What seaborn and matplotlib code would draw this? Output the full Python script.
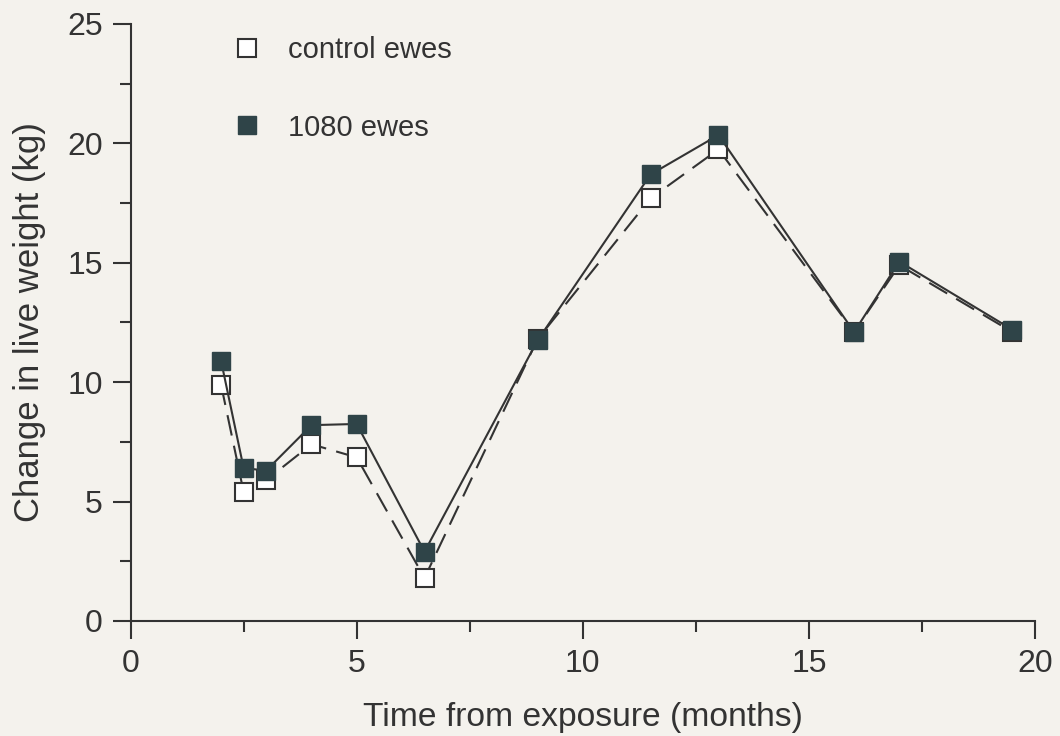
import matplotlib
matplotlib.use("Agg")
import matplotlib.pyplot as plt
import seaborn as sns
import pandas as pd
from matplotlib.lines import Line2D
from matplotlib.ticker import MultipleLocator

months = [2, 2.5, 3, 4, 5, 6.5, 9, 11.5, 13, 16, 17, 19.5]
control_ewes = [9.9, 5.4, 5.9, 7.4, 6.85, 1.8, 11.8, 17.7, 19.75, 12.1, 14.9, 12.1]
ewes_1080 = [10.9, 6.4, 6.3, 8.2, 8.25, 2.9, 11.75, 18.7, 20.35, 12.1, 15.05, 12.2]
series_labels = ["control ewes", "1080 ewes"]

sns.set_theme(style="ticks")
plt.rcParams['font.family'] = ['Liberation Sans', 'DejaVu Sans']

BG = "#f4f2ed"
INK = "#333333"
FILL = "#2f4448"

fig = plt.figure(figsize=(10.6, 7.36), dpi=100, facecolor=BG)
ax = fig.add_axes([0.1232, 0.1563, 0.8532, 0.8111])
ax.set_facecolor(BG)

df_c = pd.DataFrame({"x": months, "y": control_ewes})
df_t = pd.DataFrame({"x": months, "y": ewes_1080})

sns.lineplot(data=df_c, x="x", y="y", ax=ax, color=INK, lw=1.5,
             marker="s", markersize=13.2, markerfacecolor="white",
             markeredgecolor=INK, markeredgewidth=1.5, zorder=2)
ax.lines[-1].set_dashes([10, 5])
sns.lineplot(data=df_t, x="x", y="y", ax=ax, color=INK, lw=1.5,
             marker="s", markersize=13.2, markerfacecolor=FILL,
             markeredgecolor=FILL, markeredgewidth=1.0, zorder=3)

ax.set_xlim(0, 20)
ax.set_ylim(0, 25)
ax.xaxis.set_major_locator(MultipleLocator(5))
ax.xaxis.set_minor_locator(MultipleLocator(2.5))
ax.yaxis.set_major_locator(MultipleLocator(5))
ax.yaxis.set_minor_locator(MultipleLocator(2.5))
sns.despine(ax=ax)
for s in ("left", "bottom"):
    ax.spines[s].set_color(INK)
    ax.spines[s].set_linewidth(1.5)
ax.tick_params(which="major", length=13, width=1.5, color=INK,
               labelsize=23, labelcolor=INK, pad=7)
ax.tick_params(which="minor", length=8, width=1.5, color=INK)

ax.set_xlabel("Time from exposure (months)", fontsize=24.2, color=INK, labelpad=17)
ax.set_ylabel("Change in live weight (kg)", fontsize=25, color=INK, labelpad=15)

handles = [
    Line2D([], [], ls="none", marker="s", markersize=13, markerfacecolor="white",
           markeredgecolor=INK, markeredgewidth=1.5),
    Line2D([], [], ls="none", marker="s", markersize=13, markerfacecolor=FILL,
           markeredgecolor=FILL),
]
leg = ax.legend(handles, series_labels, loc="upper left",
                bbox_to_anchor=(0.113, 0.98), frameon=False, fontsize=21,
                handlelength=1.0, handletextpad=0.9, labelspacing=1.7,
                borderpad=0, borderaxespad=0)
for t in leg.get_texts():
    t.set_color(INK)

fig.savefig("out.png", dpi=100, facecolor=BG)
